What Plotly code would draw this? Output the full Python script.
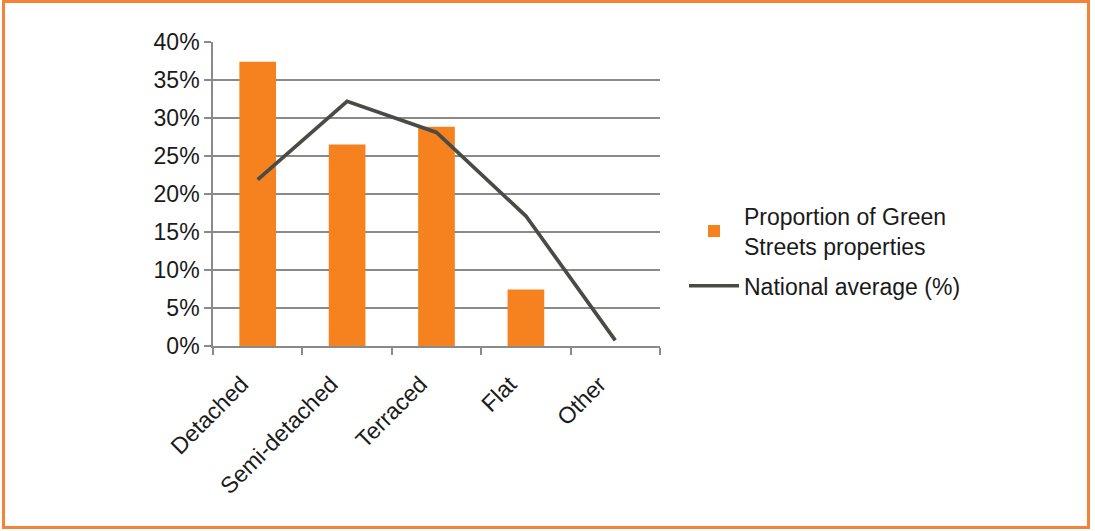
import plotly.graph_objects as go

categories = ["Detached", "Semi-detached", "Terraced", "Flat", "Other"]
green_streets = [37.4, 26.5, 28.85, 7.45, 0]
national_avg = [21.9, 32.2, 28.1, 17.1, 0.75]
y_ticks = [0, 5, 10, 15, 20, 25, 30, 35, 40]

FONT = "Liberation Sans, Arial, Helvetica, sans-serif"
GRID = "#8a8a8a"
TXT = "#1a1a1a"
FS = 23

fig = go.Figure()
fig.add_trace(go.Bar(
    x=categories, y=green_streets,
    name="Proportion of Green<br>Streets properties",
    marker=dict(color="#f5821f", line=dict(width=0)),
    width=0.41, legendgroup="a",
))
fig.add_trace(go.Scatter(
    x=categories, y=national_avg, mode="lines",
    name="National average (%)",
    line=dict(color="#4b4b46", width=3.7), legendgroup="b",
))

L, R, T, B = 213, 660, 42, 346
W, H = 1095, 531
pw, ph = R - L, B - T
def px(x):
    return (x - L) / pw
def py(y):
    return (B - y) / ph

fig.update_layout(
    width=W, height=H,
    margin=dict(l=L, r=W - R, t=T, b=H - B, pad=0),
    paper_bgcolor="white", plot_bgcolor="white",
    font=dict(family=FONT, size=FS, color=TXT),
    showlegend=True,
    legend=dict(
        x=px(684), y=py(251), xanchor="left", yanchor="middle",
        font=dict(family=FONT, size=FS, color=TXT),
        bgcolor="rgba(0,0,0,0)", itemwidth=50,
        traceorder="grouped", tracegroupgap=7,
    ),
    bargap=0.59,
    shapes=[dict(
        type="rect", xref="paper", yref="paper",
        x0=px(3.5), x1=px(1088.5), y0=py(527.5), y1=py(1.5),
        line=dict(color="#f58235", width=3), fillcolor="rgba(0,0,0,0)",
        layer="below",
    )],
)
fig.update_xaxes(
    type="category", tickangle=-45,
    showline=True, linecolor=GRID, linewidth=1.6,
    ticks="outside", tickson="boundaries", ticklen=7, tickcolor=GRID, tickwidth=1.6,
    showgrid=False, tickfont=dict(family=FONT, size=FS, color=TXT),
    ticklabelstandoff=14, ticklabelshift=-16,
)
fig.update_yaxes(
    range=[0, 40], tickvals=y_ticks, ticktext=[f"{v}%" for v in y_ticks],
    showline=True, linecolor=GRID, linewidth=1.6,
    ticks="outside", ticklen=7, tickcolor=GRID, tickwidth=1.6,
    showgrid=True, gridcolor=GRID, gridwidth=1.6, zeroline=False,
    tickfont=dict(family=FONT, size=FS, color=TXT),
)

fig.write_html(
    "out.html",
    config={"displayModeBar": False},
    post_script="document.body.style.margin='0';document.body.style.overflow='hidden';",
)
